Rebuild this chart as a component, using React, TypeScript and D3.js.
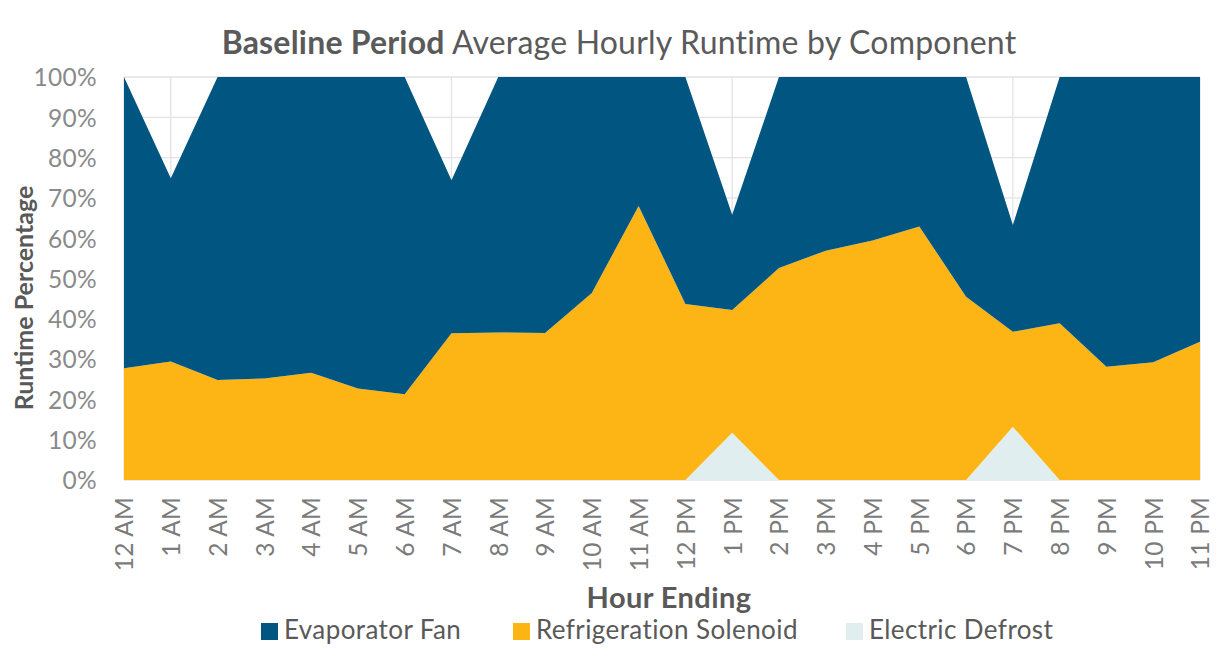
import React, { useEffect, useRef } from "react";
import * as d3 from "d3";

const WIDTH = 1221;
const HEIGHT = 662;
const MARGIN = { LEFT: 124, RIGHT: 21, TOP: 77, BOTTOM: 182 };
const PLOT_W = WIDTH - MARGIN.LEFT - MARGIN.RIGHT;
const PLOT_H = HEIGHT - MARGIN.TOP - MARGIN.BOTTOM;

const hours = [
  "12 AM", "1 AM", "2 AM", "3 AM", "4 AM", "5 AM", "6 AM", "7 AM",
  "8 AM", "9 AM", "10 AM", "11 AM", "12 PM", "1 PM", "2 PM", "3 PM",
  "4 PM", "5 PM", "6 PM", "7 PM", "8 PM", "9 PM", "10 PM", "11 PM",
];

// runtime shares, percent
const electricDefrost = [
  0, 0, 0, 0, 0, 0, 0, 0, 0, 0, 0, 0,
  0, 11.7, 0, 0, 0, 0, 0, 13.2, 0, 0, 0, 0,
];
const refrigerationSolenoid = [
  27.7, 29.4, 24.8, 25.2, 26.6, 22.7, 21.3, 36.4, 36.6, 36.5, 46.4, 68.0,
  43.7, 30.5, 52.6, 56.9, 59.4, 62.9, 45.5, 23.6, 38.9, 28.1, 29.2, 34.3,
];
const evaporatorFan = [
  72.3, 45.5, 75.2, 74.8, 73.4, 77.3, 78.7, 38.0, 63.4, 63.5, 53.6, 32.0,
  56.3, 23.6, 47.4, 43.1, 40.6, 37.1, 54.5, 26.5, 61.1, 71.9, 70.8, 65.7,
];

const seriesKeys = ["defrost", "solenoid", "fan"];
const seriesColors: Record<string, string> = {
  defrost: "#e1eef0",
  solenoid: "#fdb515",
  fan: "#005581",
};
const legendItems = [
  { key: "fan", label: "Evaporator Fan", x: 261 },
  { key: "solenoid", label: "Refrigeration Solenoid", x: 513 },
  { key: "defrost", label: "Electric Defrost", x: 846 },
];

const FONT = "Lato, 'Open Sans', sans-serif";

export default function App() {
  const ref = useRef<SVGSVGElement>(null);

  useEffect(() => {
    const svg = d3.select(ref.current);
    svg.selectAll("*").remove();

    const table = hours.map((h, i) => ({
      hour: h,
      defrost: electricDefrost[i],
      solenoid: refrigerationSolenoid[i],
      fan: evaporatorFan[i],
    }));

    const xScale = d3.scalePoint().domain(hours).range([0, PLOT_W]);
    const yScale = d3.scaleLinear().domain([0, 100]).range([PLOT_H, 0]);

    // title
    const title = svg
      .append("text")
      .attr("x", 619)
      .attr("y", 54)
      .attr("text-anchor", "middle")
      .attr("font-family", FONT)
      .attr("font-size", "32px")
      .attr("letter-spacing", "0.2px")
      .attr("fill", "#5a5a5a");
    title.append("tspan").attr("font-weight", "bold").text("Baseline Period");
    title.append("tspan").text(" Average Hourly Runtime by Component");

    const g = svg
      .append("g")
      .attr("transform", `translate(${MARGIN.LEFT}, ${MARGIN.TOP})`);

    // gridlines
    g.append("g")
      .selectAll("line")
      .data(d3.range(0, 101, 10))
      .enter()
      .append("line")
      .attr("x1", 0)
      .attr("x2", PLOT_W)
      .attr("y1", (d) => yScale(d))
      .attr("y2", (d) => yScale(d))
      .attr("stroke", "#e4e2e4")
      .attr("stroke-width", 1.3);
    g.append("g")
      .selectAll("line")
      .data(hours)
      .enter()
      .append("line")
      .attr("x1", (d) => xScale(d)!)
      .attr("x2", (d) => xScale(d)!)
      .attr("y1", 0)
      .attr("y2", PLOT_H)
      .attr("stroke", "#e4e2e4")
      .attr("stroke-width", 1.3);

    const stacked = d3.stack<any>().keys(seriesKeys)(table);
    const area = d3
      .area<any>()
      .x((d) => xScale(d.data.hour)!)
      .y0((d) => yScale(d[0]))
      .y1((d) => yScale(d[1]));

    g.selectAll(".layer")
      .data(stacked)
      .enter()
      .append("path")
      .attr("class", "layer")
      .attr("d", area)
      .attr("fill", (d) => seriesColors[d.key]);

    // y axis
    const yAxisCall = d3
      .axisLeft(yScale)
      .tickValues(d3.range(0, 101, 10))
      .tickSize(0)
      .tickPadding(27)
      .tickFormat((d) => d + "%");
    const yAxis = g.append("g").attr("class", "y axis").call(yAxisCall);
    yAxis.select(".domain").remove();
    yAxis
      .selectAll("text")
      .attr("font-family", FONT)
      .attr("font-size", "24.5px")
      .attr("letter-spacing", "0.3px")
      .attr("fill", "#8a8a8a")
      .attr("dy", "0.36em");

    // x axis
    const xAxisCall = d3.axisBottom(xScale).tickSize(0);
    const xAxis = g
      .append("g")
      .attr("class", "x axis")
      .attr("transform", `translate(0, ${PLOT_H})`)
      .call(xAxisCall);
    xAxis.select(".domain").remove();
    xAxis
      .selectAll("text")
      .attr("font-family", FONT)
      .attr("font-size", "24.5px")
      .attr("letter-spacing", "0.2px")
      .attr("fill", "#7b7b7b")
      .attr("text-anchor", "end")
      .attr("transform", "rotate(-90)")
      .attr("x", -17)
      .attr("y", 0)
      .attr("dy", "0.36em");

    // axis labels
    svg
      .append("text")
      .attr("x", 669)
      .attr("y", 608)
      .attr("text-anchor", "middle")
      .attr("font-family", FONT)
      .attr("font-weight", "bold")
      .attr("font-size", "29px")
      .attr("letter-spacing", "0.4px")
      .attr("fill", "#595959")
      .text("Hour Ending");

    svg
      .append("text")
      .attr("transform", "rotate(-90)")
      .attr("x", -298)
      .attr("y", 33)
      .attr("text-anchor", "middle")
      .attr("font-family", FONT)
      .attr("font-weight", "bold")
      .attr("font-size", "25px")
      .attr("fill", "#595959")
      .text("Runtime Percentage");

    // legend
    const legend = svg
      .append("g")
      .selectAll("g")
      .data(legendItems)
      .enter()
      .append("g")
      .attr("transform", (d) => `translate(${d.x}, 623)`);
    legend
      .append("rect")
      .attr("width", 17)
      .attr("height", 17)
      .attr("fill", (d) => seriesColors[d.key]);
    legend
      .append("text")
      .attr("x", 23)
      .attr("y", 16)
      .attr("font-family", FONT)
      .attr("font-size", "26px")
      .attr("letter-spacing", "0.4px")
      .attr("fill", "#595959")
      .text((d) => d.label);
  }, []);

  return (
    <div style={{ position: "absolute", left: 0, top: 0, background: "#fff" }}>
      <svg ref={ref} width={WIDTH} height={HEIGHT} style={{ display: "block" }} />
    </div>
  );
}
